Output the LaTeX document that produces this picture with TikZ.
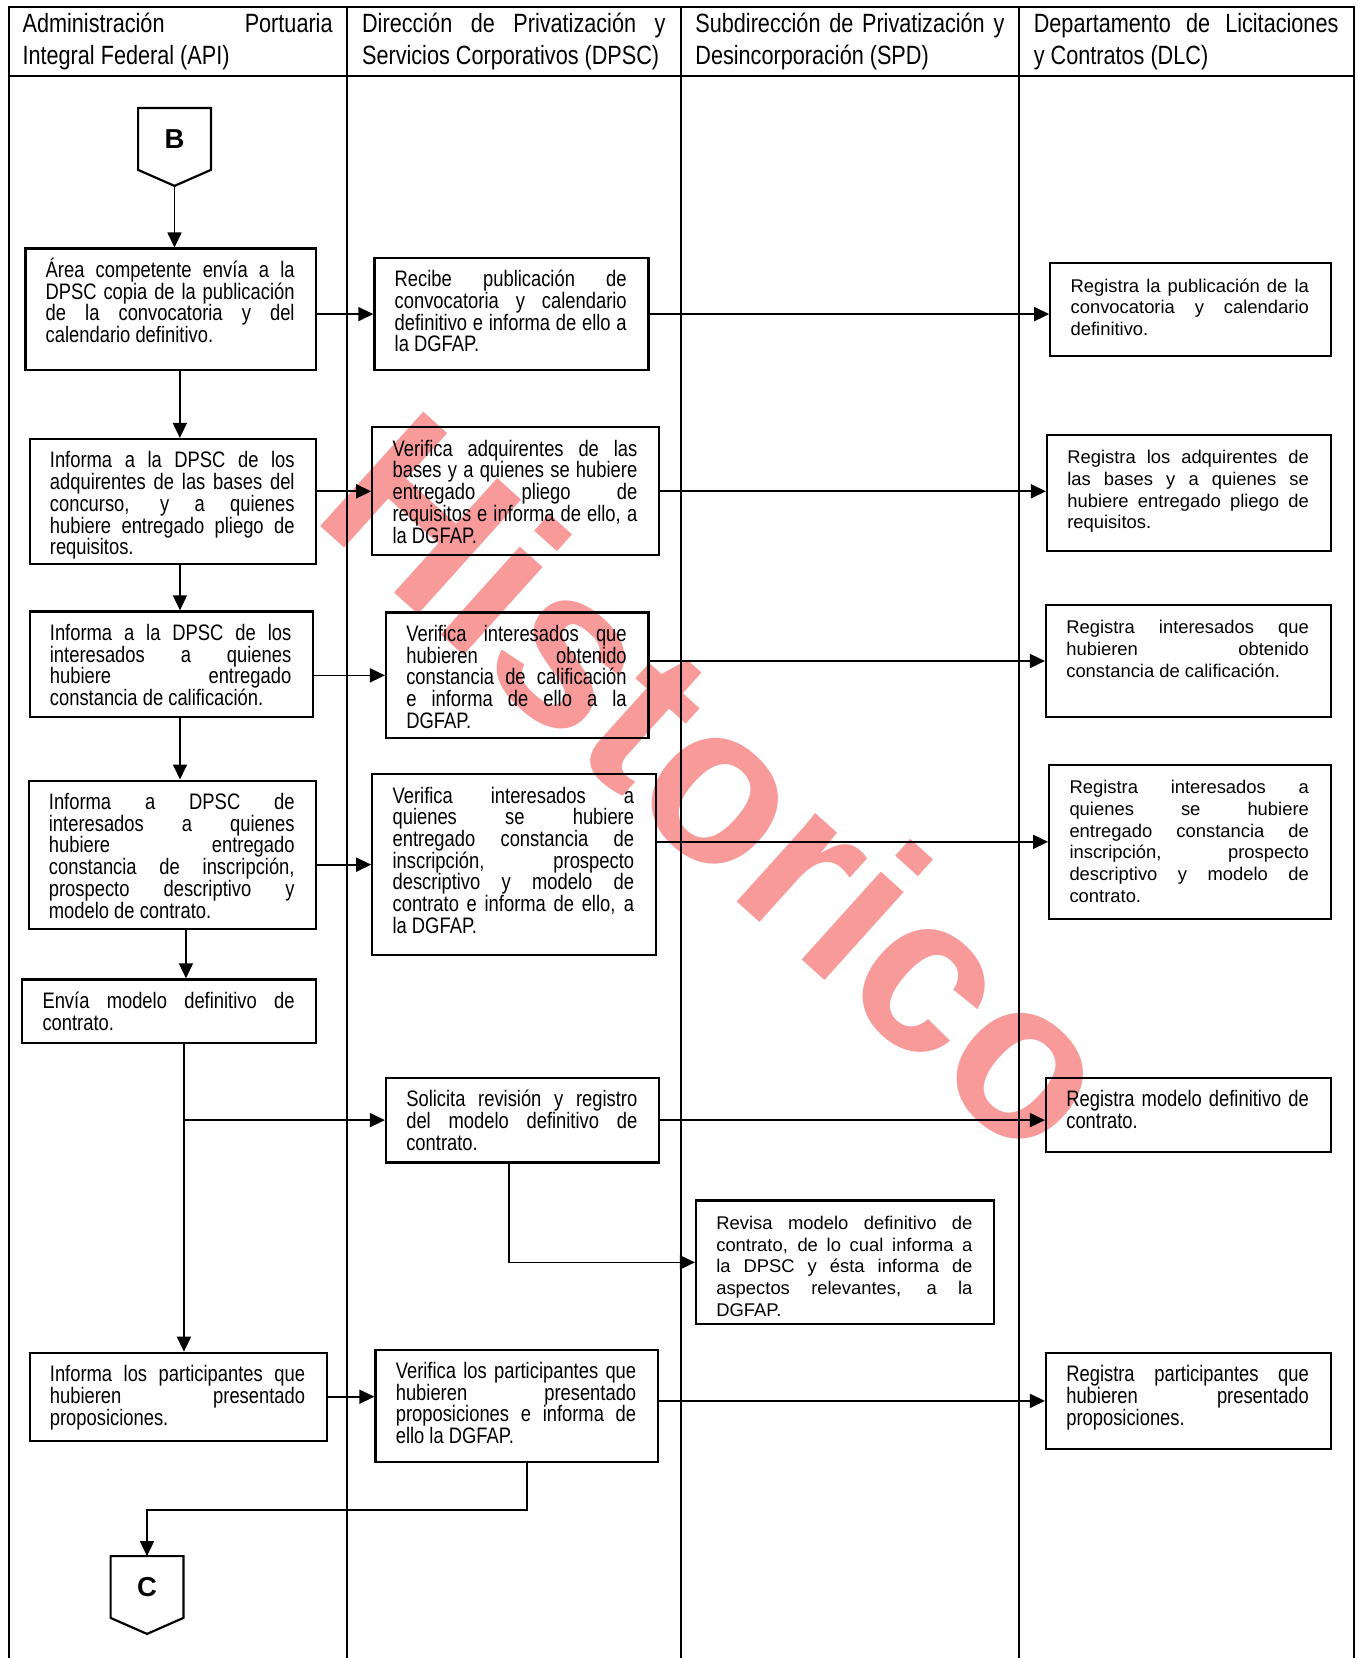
\documentclass[tikz,border=0pt]{standalone}
\usepackage{fontspec}
\setmainfont{Liberation Sans}
\newfontfamily\angosta{Liberation Sans}[FakeStretch=0.82]
\usetikzlibrary{arrows.meta,fit}
\definecolor{marcarojo}{RGB}{248,154,154}
\newcommand{\fangosta}{\angosta\fontsize{11.2pt}{10.85pt}\selectfont}
\newcommand{\fancho}{\fontsize{9.2pt}{10.85pt}\selectfont}
\newcommand{\fencab}{\angosta\fontsize{13.2pt}{16pt}\selectfont}
\hyphenpenalty=10000
\exhyphenpenalty=10000
\tolerance=9999
\hbadness=10000
\tikzstyle{block} = [rectangle, draw, line width=1.1pt, inner sep=0pt]
\tikzstyle{texto} = [inner sep=0pt, align=justify]
\tikzstyle{angosto} = [texto, font=\fangosta]
\tikzstyle{ancho} = [texto, font=\fancho]
\tikzstyle{encab} = [texto, font=\fencab]
\tikzstyle{flecha} = [-{Triangle[length=7.5pt, width=7pt]}, line width=0.85pt]
\tikzstyle{carril} = [line width=1pt]
\tikzstyle{conector} = [rectangle, inner sep=0pt, minimum width=36pt, minimum height=30.5pt, font=\bfseries\fontsize{13.7pt}{14pt}\selectfont]
\tikzstyle{marca} = [font=\bfseries\fontsize{112pt}{112pt}\selectfont, text=marcarojo, rotate=-42, inner sep=0pt]
\newcommand{\caja}[7]{%
	\node[block, fit={(#2,#3) (#4,#5)}] (#1) {};
	\pgfmathsetlengthmacro{\anchocaja}{(#4-#2)*0.5pt-21pt}%
	\node[#6, text width=\anchocaja, anchor=base west] (#1t) at ([xshift=10.5pt, yshift=-15pt]#1.north west) {#7};
}
\begin{document}
\begin{tikzpicture}[x=0.5pt, y=-0.5pt]
	\useasboundingbox (0,0) rectangle (1357,1658);
	\node[marca] (marca) at (724,782) {Historico};

	\draw[carril] (8.5,1660) -- (8.5,7.5) -- (1354,7.5) -- (1354,1660);
	\draw[carril] (8.5,76) -- (1354,76);
	\foreach \x in {347,681,1019}
		\draw[carril] (\x,7.5) -- (\x,1660);

	\node[encab, text width=155pt, anchor=base west] (h1) at (22.2,33) {Administración Portuaria\linebreak Integral Federal (API)};
	\node[encab, text width=151.7pt, anchor=base west] (h2) at (361.7,33) {Dirección de Privatización y\linebreak Servicios Corporativos (DPSC)};
	\node[encab, text width=154.5pt, anchor=base west] (h3) at (695,33) {Subdirección de Privatización y\linebreak Desincorporación (SPD)};
	\node[encab, text width=152.3pt, anchor=base west] (h4) at (1033.4,33) {Departamento de Licitaciones\linebreak y Contratos (DLC)};

	\caja{a1}{25.4}{248.6}{316.3}{370.2}{angosto}{Área competente envía a la\linebreak DPSC copia de la publicación\linebreak de la convocatoria y del\linebreak calendario definitivo.}
	\caja{a2}{29.6}{439}{316.3}{563.8}{angosto}{Informa a la DPSC de los\linebreak adquirentes de las bases del\linebreak concurso, y a quienes\linebreak hubiere entregado pliego de\linebreak requisitos.}
	\caja{a3}{29.6}{611.4}{313}{717}{angosto}{Informa a la DPSC de los\linebreak interesados a quienes\linebreak hubiere entregado\linebreak constancia de calificación.}
	\caja{a4}{28.6}{780.6}{316.3}{928.7}{angosto}{Informa a DPSC de\linebreak interesados a quienes\linebreak hubiere entregado\linebreak constancia de inscripción,\linebreak prospecto descriptivo y\linebreak modelo de contrato.}
	\caja{a5}{22.2}{979.4}{316.3}{1043}{angosto}{Envía modelo definitivo de\linebreak contrato.}
	\caja{a6}{29.6}{1352.8}{326.8}{1440.6}{angosto}{Informa los participantes que\linebreak hubieren presentado\linebreak proposiciones.}

	\caja{d1}{374.4}{258}{648.4}{370.2}{angosto}{Recibe publicación de\linebreak convocatoria y calendario\linebreak definitivo e informa de ello a\linebreak la DGFAP.}
	\caja{d2}{372.3}{427.3}{659}{555.3}{angosto}{Verifica adquirentes de las\linebreak bases y a quienes se hubiere\linebreak entregado pliego de\linebreak requisitos e informa de ello, a\linebreak la DGFAP.}
	\caja{d3}{386}{612.4}{648.4}{738.3}{angosto}{Verifica interesados que\linebreak hubieren obtenido\linebreak constancia de calificación\linebreak e informa de ello a la\linebreak DGFAP.}
	\caja{d4}{372.3}{774.2}{655.8}{955.1}{angosto}{Verifica interesados a\linebreak quienes se hubiere\linebreak entregado constancia de\linebreak inscripción, prospecto\linebreak descriptivo y modelo de\linebreak contrato e informa de ello, a\linebreak la DGFAP.}
	\caja{d5}{386}{1077.8}{659}{1162.4}{angosto}{Solicita revisión y registro\linebreak del modelo definitivo de\linebreak contrato.}
	\caja{d6}{375.5}{1349.6}{657.9}{1461.7}{angosto}{Verifica los participantes que\linebreak hubieren presentado\linebreak proposiciones e informa de\linebreak ello la DGFAP.}

	\caja{s1}{696}{1200.5}{994.2}{1324.2}{ancho}{Revisa modelo definitivo de\linebreak contrato, de lo cual informa a\linebreak la DPSC y ésta informa de\linebreak aspectos relevantes, a la\linebreak DGFAP.}

	\caja{r1}{1050.3}{263.4}{1330.6}{356.4}{ancho}{Registra la publicación de la\linebreak convocatoria y calendario\linebreak definitivo.}
	\caja{r2}{1047}{434.7}{1330.6}{551}{ancho}{Registra los adquirentes de\linebreak las bases y a quienes se\linebreak hubiere entregado pliego de\linebreak requisitos.}
	\caja{r3}{1046}{605}{1330.6}{717}{ancho}{Registra interesados que\linebreak hubieren obtenido\linebreak constancia de calificación.}
	\caja{r4}{1049.2}{764.7}{1330.6}{919}{ancho}{Registra interesados a\linebreak quienes se hubiere\linebreak entregado constancia de\linebreak inscripción, prospecto\linebreak descriptivo y modelo de\linebreak contrato.}
	\caja{r5}{1046}{1077.8}{1330.6}{1151.8}{angosto}{Registra modelo definitivo de\linebreak contrato.}
	\caja{r6}{1046}{1352.8}{1330.6}{1449}{angosto}{Registra participantes que\linebreak hubieren presentado\linebreak proposiciones.}

	\node[conector] (B) at (174.5,139) {B};
	\coordinate (Bpunta) at ([yshift=-8pt]B.south);
	\draw[line width=1.1pt] (B.north west) -- (B.north east) -- (B.south east) -- (Bpunta) -- (B.south west) -- cycle;
	\node[conector] (C) at (147,1587) {C};
	\coordinate (Cpunta) at ([yshift=-8pt]C.south);
	\draw[line width=1.1pt] (C.north west) -- (C.north east) -- (C.south east) -- (Cpunta) -- (C.south west) -- cycle;

	\coordinate (v1) at ([xshift=4.5pt]a1.south);
	\coordinate (v2) at ([xshift=3.5pt]a2.south);
	\coordinate (v3) at ([xshift=4.35pt]a3.south);
	\coordinate (v4) at ([xshift=6.75pt]a4.south);
	\coordinate (v5) at ([xshift=7.35pt]a5.south);
	\coordinate (v6) at ([xshift=-6.85pt]d5.south);
	\coordinate (v7) at ([xshift=5pt]d6.south);
	\draw[flecha] (Bpunta) -- (Bpunta |- a1.north);
	\draw[flecha] (v1) -- (v1 |- a2.north);
	\draw[flecha] (v2) -- (v2 |- a3.north);
	\draw[flecha] (v3) -- (v3 |- a4.north);
	\draw[flecha] (v4) -- (v4 |- a5.north);
	\draw[flecha] (v5) -- (v5 |- a6.north);
	\draw[flecha] (v5 |- d5.west) -- (d5.west);

	\draw[flecha] (a1.east |- d1.west) -- (d1.west);
	\draw[flecha] (d1.east) -- (d1.east -| r1.west);
	\draw[flecha] (a2.east |- d2.west) -- (d2.west);
	\draw[flecha] (d2.east) -- (d2.east -| r2.west);
	\draw[flecha] (a3.east |- d3.west) -- (d3.west);
	\draw[flecha] (d3.east |- r3.west) -- (r3.west);
	\draw[flecha] (a4.east |- d4.west) -- (d4.west);
	\draw[flecha] (d4.east |- r4.west) -- (r4.west);
	\draw[flecha] (d5.east) -- (d5.east -| r5.west);
	\draw[flecha] (v6) |- (s1.west);
	\draw[flecha] (a6.east) -- (a6.east -| d6.west);
	\draw[flecha] (d6.east |- r6.west) -- (r6.west);
	\draw[flecha] (v7) -- ++(0,47) -| (C.north);
\end{tikzpicture}
\end{document}
